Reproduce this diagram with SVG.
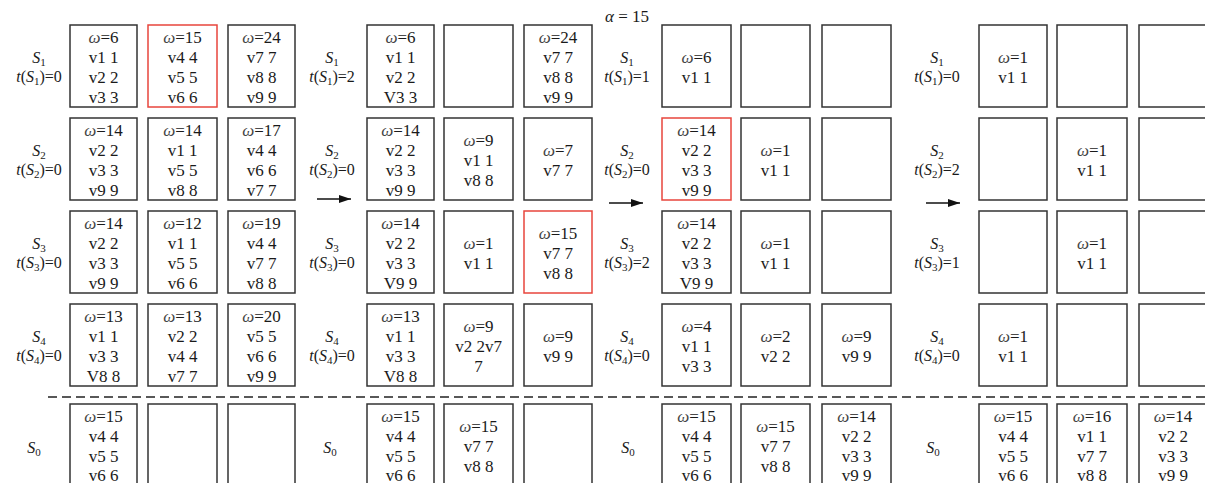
<svg xmlns="http://www.w3.org/2000/svg" width="1205" height="483" viewBox="0 0 1205 483">
<defs>
<style>
text{font-family:"Liberation Serif","DejaVu Serif","Noto Serif","Times New Roman",Times,serif}
.box{fill:#fff;stroke:#333;stroke-width:1.5}
.red{stroke:#e8453c}
.t{font-size:17px;text-anchor:middle;fill:#1a1a1a}
.w{font-style:italic;fill:#444}
.lb{font-size:16px;text-anchor:middle;fill:#1a1a1a}
.i{font-style:italic}
.sub{font-size:11px}
.sep{stroke:#222;stroke-width:1.4;stroke-dasharray:9 5;fill:none}
.arr{stroke:#111;stroke-width:1.4;fill:none}
</style>
<marker id="ah" viewBox="0 0 12 8" refX="12" refY="4" markerWidth="12" markerHeight="8" markerUnits="userSpaceOnUse" orient="auto">
<path d="M0,0 L12,4 L0,8 Z" fill="#111"/>
</marker>
</defs>
<rect width="1205" height="483" fill="#fff"/>

<text class="t" x="627" y="22" fill="#444"><tspan class="i">α</tspan> = 15</text>

<g id="labels">
<text class="lb" x="39" y="63"><tspan class="i">S</tspan><tspan class="sub" dy="3">1</tspan></text>
<text class="lb" x="39" y="82"><tspan class="i">t</tspan>(<tspan class="i">S</tspan><tspan class="sub" dy="3">1</tspan><tspan dy="-3">)=0</tspan></text>
<text class="lb" x="39" y="156"><tspan class="i">S</tspan><tspan class="sub" dy="3">2</tspan></text>
<text class="lb" x="39" y="175"><tspan class="i">t</tspan>(<tspan class="i">S</tspan><tspan class="sub" dy="3">2</tspan><tspan dy="-3">)=0</tspan></text>
<text class="lb" x="39" y="249"><tspan class="i">S</tspan><tspan class="sub" dy="3">3</tspan></text>
<text class="lb" x="39" y="268"><tspan class="i">t</tspan>(<tspan class="i">S</tspan><tspan class="sub" dy="3">3</tspan><tspan dy="-3">)=0</tspan></text>
<text class="lb" x="39" y="342"><tspan class="i">S</tspan><tspan class="sub" dy="3">4</tspan></text>
<text class="lb" x="39" y="361"><tspan class="i">t</tspan>(<tspan class="i">S</tspan><tspan class="sub" dy="3">4</tspan><tspan dy="-3">)=0</tspan></text>
<text class="lb" x="34" y="453"><tspan class="i">S</tspan><tspan class="sub" dy="3">0</tspan></text>

<text class="lb" x="332" y="63"><tspan class="i">S</tspan><tspan class="sub" dy="3">1</tspan></text>
<text class="lb" x="332" y="82"><tspan class="i">t</tspan>(<tspan class="i">S</tspan><tspan class="sub" dy="3">1</tspan><tspan dy="-3">)=2</tspan></text>
<text class="lb" x="332" y="156"><tspan class="i">S</tspan><tspan class="sub" dy="3">2</tspan></text>
<text class="lb" x="332" y="175"><tspan class="i">t</tspan>(<tspan class="i">S</tspan><tspan class="sub" dy="3">2</tspan><tspan dy="-3">)=0</tspan></text>
<text class="lb" x="332" y="249"><tspan class="i">S</tspan><tspan class="sub" dy="3">3</tspan></text>
<text class="lb" x="332" y="268"><tspan class="i">t</tspan>(<tspan class="i">S</tspan><tspan class="sub" dy="3">3</tspan><tspan dy="-3">)=0</tspan></text>
<text class="lb" x="332" y="342"><tspan class="i">S</tspan><tspan class="sub" dy="3">4</tspan></text>
<text class="lb" x="332" y="361"><tspan class="i">t</tspan>(<tspan class="i">S</tspan><tspan class="sub" dy="3">4</tspan><tspan dy="-3">)=0</tspan></text>
<text class="lb" x="330" y="453"><tspan class="i">S</tspan><tspan class="sub" dy="3">0</tspan></text>

<text class="lb" x="627" y="63"><tspan class="i">S</tspan><tspan class="sub" dy="3">1</tspan></text>
<text class="lb" x="627" y="82"><tspan class="i">t</tspan>(<tspan class="i">S</tspan><tspan class="sub" dy="3">1</tspan><tspan dy="-3">)=1</tspan></text>
<text class="lb" x="627" y="156"><tspan class="i">S</tspan><tspan class="sub" dy="3">2</tspan></text>
<text class="lb" x="627" y="175"><tspan class="i">t</tspan>(<tspan class="i">S</tspan><tspan class="sub" dy="3">2</tspan><tspan dy="-3">)=0</tspan></text>
<text class="lb" x="627" y="249"><tspan class="i">S</tspan><tspan class="sub" dy="3">3</tspan></text>
<text class="lb" x="627" y="268"><tspan class="i">t</tspan>(<tspan class="i">S</tspan><tspan class="sub" dy="3">3</tspan><tspan dy="-3">)=2</tspan></text>
<text class="lb" x="627" y="342"><tspan class="i">S</tspan><tspan class="sub" dy="3">4</tspan></text>
<text class="lb" x="627" y="361"><tspan class="i">t</tspan>(<tspan class="i">S</tspan><tspan class="sub" dy="3">4</tspan><tspan dy="-3">)=0</tspan></text>
<text class="lb" x="628" y="453"><tspan class="i">S</tspan><tspan class="sub" dy="3">0</tspan></text>

<text class="lb" x="937" y="63"><tspan class="i">S</tspan><tspan class="sub" dy="3">1</tspan></text>
<text class="lb" x="937" y="82"><tspan class="i">t</tspan>(<tspan class="i">S</tspan><tspan class="sub" dy="3">1</tspan><tspan dy="-3">)=0</tspan></text>
<text class="lb" x="937" y="156"><tspan class="i">S</tspan><tspan class="sub" dy="3">2</tspan></text>
<text class="lb" x="937" y="175"><tspan class="i">t</tspan>(<tspan class="i">S</tspan><tspan class="sub" dy="3">2</tspan><tspan dy="-3">)=2</tspan></text>
<text class="lb" x="937" y="249"><tspan class="i">S</tspan><tspan class="sub" dy="3">3</tspan></text>
<text class="lb" x="937" y="268"><tspan class="i">t</tspan>(<tspan class="i">S</tspan><tspan class="sub" dy="3">3</tspan><tspan dy="-3">)=1</tspan></text>
<text class="lb" x="937" y="342"><tspan class="i">S</tspan><tspan class="sub" dy="3">4</tspan></text>
<text class="lb" x="937" y="361"><tspan class="i">t</tspan>(<tspan class="i">S</tspan><tspan class="sub" dy="3">4</tspan><tspan dy="-3">)=0</tspan></text>
<text class="lb" x="933" y="453"><tspan class="i">S</tspan><tspan class="sub" dy="3">0</tspan></text>
</g>

<!-- Panel 1 -->
<g id="p1r1c1"><rect class="box" x="70" y="25" width="67" height="82"/><text class="t"><tspan x="103.5" y="43"><tspan class="w">ω</tspan>=6</tspan><tspan x="103.5" y="63">v1 1</tspan><tspan x="103.5" y="83">v2 2</tspan><tspan x="103.5" y="103">v3 3</tspan></text></g>
<g id="p1r1c2"><rect class="box red" x="148" y="25" width="69" height="82"/><text class="t"><tspan x="182.5" y="43"><tspan class="w">ω</tspan>=15</tspan><tspan x="182.5" y="63">v4 4</tspan><tspan x="182.5" y="83">v5 5</tspan><tspan x="182.5" y="103">v6 6</tspan></text></g>
<g id="p1r1c3"><rect class="box" x="228" y="25" width="67" height="82"/><text class="t"><tspan x="261.5" y="43"><tspan class="w">ω</tspan>=24</tspan><tspan x="261.5" y="63">v7 7</tspan><tspan x="261.5" y="83">v8 8</tspan><tspan x="261.5" y="103">v9 9</tspan></text></g>
<g id="p1r2c1"><rect class="box" x="70" y="118" width="67" height="82"/><text class="t"><tspan x="103.5" y="136"><tspan class="w">ω</tspan>=14</tspan><tspan x="103.5" y="156">v2 2</tspan><tspan x="103.5" y="176">v3 3</tspan><tspan x="103.5" y="196">v9 9</tspan></text></g>
<g id="p1r2c2"><rect class="box" x="148" y="118" width="69" height="82"/><text class="t"><tspan x="182.5" y="136"><tspan class="w">ω</tspan>=14</tspan><tspan x="182.5" y="156">v1 1</tspan><tspan x="182.5" y="176">v5 5</tspan><tspan x="182.5" y="196">v8 8</tspan></text></g>
<g id="p1r2c3"><rect class="box" x="228" y="118" width="67" height="82"/><text class="t"><tspan x="261.5" y="136"><tspan class="w">ω</tspan>=17</tspan><tspan x="261.5" y="156">v4 4</tspan><tspan x="261.5" y="176">v6 6</tspan><tspan x="261.5" y="196">v7 7</tspan></text></g>
<g id="p1r3c1"><rect class="box" x="70" y="211" width="67" height="82"/><text class="t"><tspan x="103.5" y="229"><tspan class="w">ω</tspan>=14</tspan><tspan x="103.5" y="249">v2 2</tspan><tspan x="103.5" y="269">v3 3</tspan><tspan x="103.5" y="289">v9 9</tspan></text></g>
<g id="p1r3c2"><rect class="box" x="148" y="211" width="69" height="82"/><text class="t"><tspan x="182.5" y="229"><tspan class="w">ω</tspan>=12</tspan><tspan x="182.5" y="249">v1 1</tspan><tspan x="182.5" y="269">v5 5</tspan><tspan x="182.5" y="289">v6 6</tspan></text></g>
<g id="p1r3c3"><rect class="box" x="228" y="211" width="67" height="82"/><text class="t"><tspan x="261.5" y="229"><tspan class="w">ω</tspan>=19</tspan><tspan x="261.5" y="249">v4 4</tspan><tspan x="261.5" y="269">v7 7</tspan><tspan x="261.5" y="289">v8 8</tspan></text></g>
<g id="p1r4c1"><rect class="box" x="70" y="304" width="67" height="82"/><text class="t"><tspan x="103.5" y="322"><tspan class="w">ω</tspan>=13</tspan><tspan x="103.5" y="342">v1 1</tspan><tspan x="103.5" y="362">v3 3</tspan><tspan x="103.5" y="382">V8 8</tspan></text></g>
<g id="p1r4c2"><rect class="box" x="148" y="304" width="69" height="82"/><text class="t"><tspan x="182.5" y="322"><tspan class="w">ω</tspan>=13</tspan><tspan x="182.5" y="342">v2 2</tspan><tspan x="182.5" y="362">v4 4</tspan><tspan x="182.5" y="382">v7 7</tspan></text></g>
<g id="p1r4c3"><rect class="box" x="228" y="304" width="67" height="82"/><text class="t"><tspan x="261.5" y="322"><tspan class="w">ω</tspan>=20</tspan><tspan x="261.5" y="342">v5 5</tspan><tspan x="261.5" y="362">v6 6</tspan><tspan x="261.5" y="382">v9 9</tspan></text></g>
<g id="p1r0c1"><rect class="box" x="70" y="404" width="67" height="82"/><text class="t"><tspan x="103.5" y="422"><tspan class="w">ω</tspan>=15</tspan><tspan x="103.5" y="442">v4 4</tspan><tspan x="103.5" y="462">v5 5</tspan><tspan x="103.5" y="481">v6 6</tspan></text></g>
<g id="p1r0c2"><rect class="box" x="148" y="404" width="69" height="82"/></g>
<g id="p1r0c3"><rect class="box" x="228" y="404" width="67" height="82"/></g>

<!-- Panel 2 -->
<g id="p2r1c1"><rect class="box" x="367" y="25" width="67" height="82"/><text class="t"><tspan x="400.5" y="43"><tspan class="w">ω</tspan>=6</tspan><tspan x="400.5" y="63">v1 1</tspan><tspan x="400.5" y="83">v2 2</tspan><tspan x="400.5" y="103">V3 3</tspan></text></g>
<g id="p2r1c2"><rect class="box" x="444" y="25" width="69" height="82"/></g>
<g id="p2r1c3"><rect class="box" x="524" y="25" width="68" height="82"/><text class="t"><tspan x="558" y="43"><tspan class="w">ω</tspan>=24</tspan><tspan x="558" y="63">v7 7</tspan><tspan x="558" y="83">v8 8</tspan><tspan x="558" y="103">v9 9</tspan></text></g>
<g id="p2r2c1"><rect class="box" x="367" y="118" width="67" height="82"/><text class="t"><tspan x="400.5" y="136"><tspan class="w">ω</tspan>=14</tspan><tspan x="400.5" y="156">v2 2</tspan><tspan x="400.5" y="176">v3 3</tspan><tspan x="400.5" y="196">v9 9</tspan></text></g>
<g id="p2r2c2"><rect class="box" x="444" y="118" width="69" height="82"/><text class="t"><tspan x="478.5" y="146"><tspan class="w">ω</tspan>=9</tspan><tspan x="478.5" y="166">v1 1</tspan><tspan x="478.5" y="186">v8 8</tspan></text></g>
<g id="p2r2c3"><rect class="box" x="524" y="118" width="68" height="82"/><text class="t"><tspan x="558" y="156"><tspan class="w">ω</tspan>=7</tspan><tspan x="558" y="176">v7 7</tspan></text></g>
<g id="p2r3c1"><rect class="box" x="367" y="211" width="67" height="82"/><text class="t"><tspan x="400.5" y="229"><tspan class="w">ω</tspan>=14</tspan><tspan x="400.5" y="249">v2 2</tspan><tspan x="400.5" y="269">v3 3</tspan><tspan x="400.5" y="289">V9 9</tspan></text></g>
<g id="p2r3c2"><rect class="box" x="444" y="211" width="69" height="82"/><text class="t"><tspan x="478.5" y="249"><tspan class="w">ω</tspan>=1</tspan><tspan x="478.5" y="269">v1 1</tspan></text></g>
<g id="p2r3c3"><rect class="box red" x="524" y="211" width="68" height="82"/><text class="t"><tspan x="558" y="239"><tspan class="w">ω</tspan>=15</tspan><tspan x="558" y="259">v7 7</tspan><tspan x="558" y="279">v8 8</tspan></text></g>
<g id="p2r4c1"><rect class="box" x="367" y="304" width="67" height="82"/><text class="t"><tspan x="400.5" y="322"><tspan class="w">ω</tspan>=13</tspan><tspan x="400.5" y="342">v1 1</tspan><tspan x="400.5" y="362">v3 3</tspan><tspan x="400.5" y="382">V8 8</tspan></text></g>
<g id="p2r4c2"><rect class="box" x="444" y="304" width="69" height="82"/><text class="t"><tspan x="478.5" y="332"><tspan class="w">ω</tspan>=9</tspan><tspan x="478.5" y="352">v2 2v7</tspan><tspan x="478.5" y="372">7</tspan></text></g>
<g id="p2r4c3"><rect class="box" x="524" y="304" width="68" height="82"/><text class="t"><tspan x="558" y="342"><tspan class="w">ω</tspan>=9</tspan><tspan x="558" y="362">v9 9</tspan></text></g>
<g id="p2r0c1"><rect class="box" x="367" y="404" width="67" height="82"/><text class="t"><tspan x="400.5" y="422"><tspan class="w">ω</tspan>=15</tspan><tspan x="400.5" y="442">v4 4</tspan><tspan x="400.5" y="462">v5 5</tspan><tspan x="400.5" y="481">v6 6</tspan></text></g>
<g id="p2r0c2"><rect class="box" x="444" y="404" width="69" height="82"/><text class="t"><tspan x="478.5" y="432"><tspan class="w">ω</tspan>=15</tspan><tspan x="478.5" y="452">v7 7</tspan><tspan x="478.5" y="472">v8 8</tspan></text></g>
<g id="p2r0c3"><rect class="box" x="524" y="404" width="68" height="82"/></g>

<!-- Panel 3 -->
<g id="p3r1c1"><rect class="box" x="662" y="25" width="69" height="82"/><text class="t"><tspan x="696.5" y="63"><tspan class="w">ω</tspan>=6</tspan><tspan x="696.5" y="83">v1 1</tspan></text></g>
<g id="p3r1c2"><rect class="box" x="741" y="25" width="69" height="82"/></g>
<g id="p3r1c3"><rect class="box" x="822" y="25" width="69" height="82"/></g>
<g id="p3r2c1"><rect class="box red" x="662" y="118" width="69" height="82"/><text class="t"><tspan x="696.5" y="136"><tspan class="w">ω</tspan>=14</tspan><tspan x="696.5" y="156">v2 2</tspan><tspan x="696.5" y="176">v3 3</tspan><tspan x="696.5" y="196">v9 9</tspan></text></g>
<g id="p3r2c2"><rect class="box" x="741" y="118" width="69" height="82"/><text class="t"><tspan x="775.5" y="156"><tspan class="w">ω</tspan>=1</tspan><tspan x="775.5" y="176">v1 1</tspan></text></g>
<g id="p3r2c3"><rect class="box" x="822" y="118" width="69" height="82"/></g>
<g id="p3r3c1"><rect class="box" x="662" y="211" width="69" height="82"/><text class="t"><tspan x="696.5" y="229"><tspan class="w">ω</tspan>=14</tspan><tspan x="696.5" y="249">v2 2</tspan><tspan x="696.5" y="269">v3 3</tspan><tspan x="696.5" y="289">V9 9</tspan></text></g>
<g id="p3r3c2"><rect class="box" x="741" y="211" width="69" height="82"/><text class="t"><tspan x="775.5" y="249"><tspan class="w">ω</tspan>=1</tspan><tspan x="775.5" y="269">v1 1</tspan></text></g>
<g id="p3r3c3"><rect class="box" x="822" y="211" width="69" height="82"/></g>
<g id="p3r4c1"><rect class="box" x="662" y="304" width="69" height="82"/><text class="t"><tspan x="696.5" y="332"><tspan class="w">ω</tspan>=4</tspan><tspan x="696.5" y="352">v1 1</tspan><tspan x="696.5" y="372">v3 3</tspan></text></g>
<g id="p3r4c2"><rect class="box" x="741" y="304" width="69" height="82"/><text class="t"><tspan x="775.5" y="342"><tspan class="w">ω</tspan>=2</tspan><tspan x="775.5" y="362">v2 2</tspan></text></g>
<g id="p3r4c3"><rect class="box" x="822" y="304" width="69" height="82"/><text class="t"><tspan x="856.5" y="342"><tspan class="w">ω</tspan>=9</tspan><tspan x="856.5" y="362">v9 9</tspan></text></g>
<g id="p3r0c1"><rect class="box" x="662" y="404" width="69" height="82"/><text class="t"><tspan x="696.5" y="422"><tspan class="w">ω</tspan>=15</tspan><tspan x="696.5" y="442">v4 4</tspan><tspan x="696.5" y="462">v5 5</tspan><tspan x="696.5" y="481">v6 6</tspan></text></g>
<g id="p3r0c2"><rect class="box" x="741" y="404" width="69" height="82"/><text class="t"><tspan x="775.5" y="432"><tspan class="w">ω</tspan>=15</tspan><tspan x="775.5" y="452">v7 7</tspan><tspan x="775.5" y="472">v8 8</tspan></text></g>
<g id="p3r0c3"><rect class="box" x="822" y="404" width="69" height="82"/><text class="t"><tspan x="856.5" y="422"><tspan class="w">ω</tspan>=14</tspan><tspan x="856.5" y="442">v2 2</tspan><tspan x="856.5" y="462">v3 3</tspan><tspan x="856.5" y="481">v9 9</tspan></text></g>

<!-- Panel 4 -->
<g id="p4r1c1"><rect class="box" x="979" y="25" width="68" height="82"/><text class="t"><tspan x="1013" y="63"><tspan class="w">ω</tspan>=1</tspan><tspan x="1013" y="83">v1 1</tspan></text></g>
<g id="p4r1c2"><rect class="box" x="1057" y="25" width="70" height="82"/></g>
<g id="p4r1c3"><rect class="box" x="1139" y="25" width="70" height="82"/></g>
<g id="p4r2c1"><rect class="box" x="979" y="118" width="68" height="82"/></g>
<g id="p4r2c2"><rect class="box" x="1057" y="118" width="70" height="82"/><text class="t"><tspan x="1092" y="156"><tspan class="w">ω</tspan>=1</tspan><tspan x="1092" y="176">v1 1</tspan></text></g>
<g id="p4r2c3"><rect class="box" x="1139" y="118" width="70" height="82"/></g>
<g id="p4r3c1"><rect class="box" x="979" y="211" width="68" height="82"/></g>
<g id="p4r3c2"><rect class="box" x="1057" y="211" width="70" height="82"/><text class="t"><tspan x="1092" y="249"><tspan class="w">ω</tspan>=1</tspan><tspan x="1092" y="269">v1 1</tspan></text></g>
<g id="p4r3c3"><rect class="box" x="1139" y="211" width="70" height="82"/></g>
<g id="p4r4c1"><rect class="box" x="979" y="304" width="68" height="82"/><text class="t"><tspan x="1013" y="342"><tspan class="w">ω</tspan>=1</tspan><tspan x="1013" y="362">v1 1</tspan></text></g>
<g id="p4r4c2"><rect class="box" x="1057" y="304" width="70" height="82"/></g>
<g id="p4r4c3"><rect class="box" x="1139" y="304" width="70" height="82"/></g>
<g id="p4r0c1"><rect class="box" x="979" y="404" width="68" height="82"/><text class="t"><tspan x="1013" y="422"><tspan class="w">ω</tspan>=15</tspan><tspan x="1013" y="442">v4 4</tspan><tspan x="1013" y="462">v5 5</tspan><tspan x="1013" y="481">v6 6</tspan></text></g>
<g id="p4r0c2"><rect class="box" x="1057" y="404" width="70" height="82"/><text class="t"><tspan x="1092" y="422"><tspan class="w">ω</tspan>=16</tspan><tspan x="1092" y="442">v1 1</tspan><tspan x="1092" y="462">v7 7</tspan><tspan x="1092" y="481">v8 8</tspan></text></g>
<g id="p4r0c3"><rect class="box" x="1139" y="404" width="70" height="82"/><text class="t"><tspan x="1173" y="422"><tspan class="w">ω</tspan>=14</tspan><tspan x="1173" y="442">v2 2</tspan><tspan x="1173" y="462">v3 3</tspan><tspan x="1173" y="481">v9 9</tspan></text></g>

<line class="sep" x1="48" y1="397" x2="1205" y2="397"/>

<g id="connectors">
<line class="arr" x1="317" y1="199" x2="351" y2="199" marker-end="url(#ah)"/>
<line class="arr" x1="609" y1="203" x2="643" y2="203" marker-end="url(#ah)"/>
<line class="arr" x1="926" y1="203" x2="960" y2="203" marker-end="url(#ah)"/>
</g>
</svg>
